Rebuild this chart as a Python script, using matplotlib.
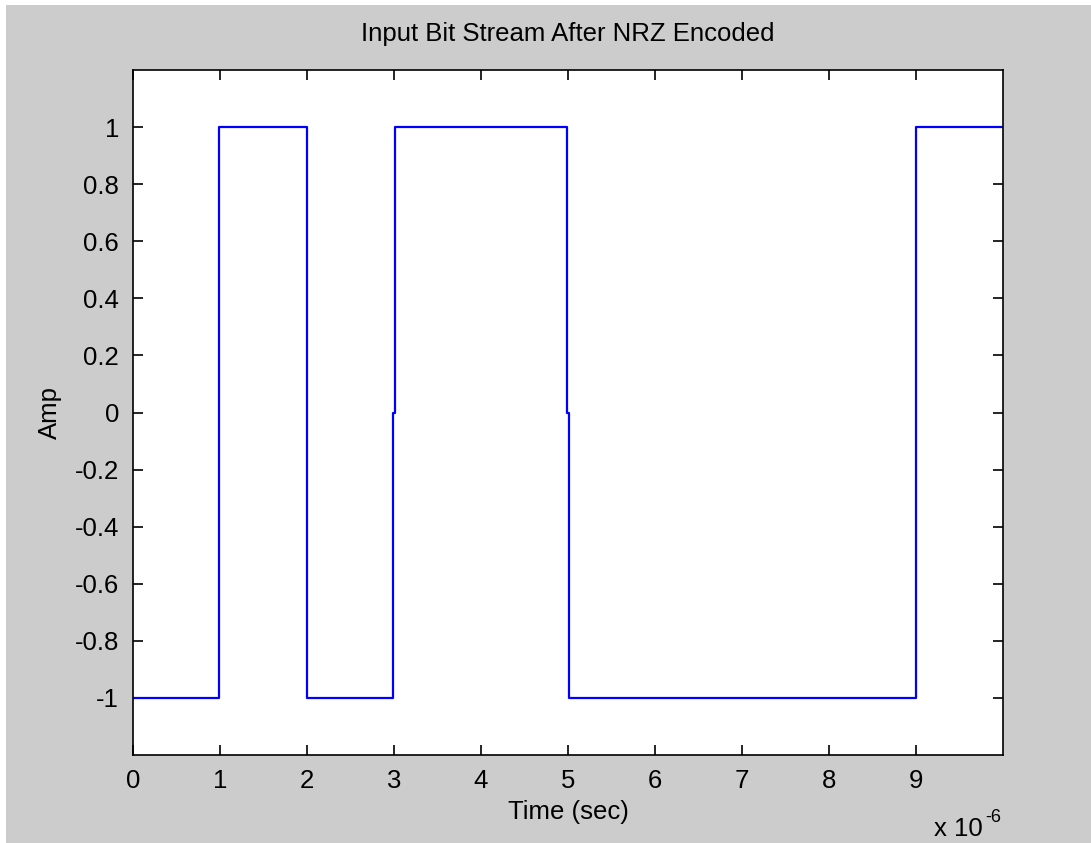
import numpy as np
import matplotlib.pyplot as plt
from matplotlib.patches import Rectangle

# NRZ waveform, time in units of 1e-6 s
t_us = [0, 0.99, 0.99, 2.0, 2.0, 2.99, 2.99, 3.01, 3.01, 4.99, 4.99, 5.01, 5.01, 9.0, 9.0, 10.0]
amp = [-1, -1, 1, 1, -1, -1, 0, 0, 1, 1, 0, 0, -1, -1, 1, 1]

xticks = [0, 1, 2, 3, 4, 5, 6, 7, 8, 9]
yticks = [-1, -0.8, -0.6, -0.4, -0.2, 0, 0.2, 0.4, 0.6, 0.8, 1]

plt.rcParams['font.family'] = ['Liberation Sans', 'DejaVu Sans']
fs = 18.5

fig = plt.figure(figsize=(10.91, 8.43), dpi=100, facecolor='white')
fig.patches.append(Rectangle((6 / 1091, 0), 1, 1 - 5 / 843, transform=fig.transFigure,
                             facecolor='#cccccc', edgecolor='none', zorder=-10))

ax = fig.add_axes([133 / 1091, 1 - 755 / 843, 870 / 1091, 685 / 843])
ax.plot(np.array(t_us) * 1e-6, amp, color='#0000ff', lw=1.6)

ax.set_xlim(0, 10e-6)
ax.set_ylim(-1.2, 1.2)
ax.set_xticks(np.array(xticks) * 1e-6)
ax.set_xticklabels([str(v) for v in xticks])
ax.set_yticks(yticks)
ax.set_yticklabels(['%g' % v for v in yticks])
ax.tick_params(direction='in', length=7, width=1.2, top=True, right=True,
               labelsize=fs, colors='black')
ax.tick_params(axis='x', pad=10)
ax.tick_params(axis='y', pad=10)
for s in ax.spines.values():
    s.set_linewidth(1.2)

ax.set_title('Input Bit Stream After NRZ Encoded', fontsize=fs, y=(755 - 42) / 685, va='center')
ax.set_xlabel('Time (sec)', fontsize=fs, va='center')
ax.xaxis.set_label_coords(0.5, (755 - 812) / 685)
ax.set_ylabel('Amp', fontsize=fs, va='center')
ax.yaxis.set_label_coords((50 - 133) / 870, 0.5)

fig.text(934 / 1091, 1 - 829 / 843, 'x 10', fontsize=fs, va='center')
fig.text(985 / 1091, 1 - 817 / 843, '-6', fontsize=13, va='center')

fig.savefig('out.png', dpi=100, facecolor=fig.get_facecolor())
